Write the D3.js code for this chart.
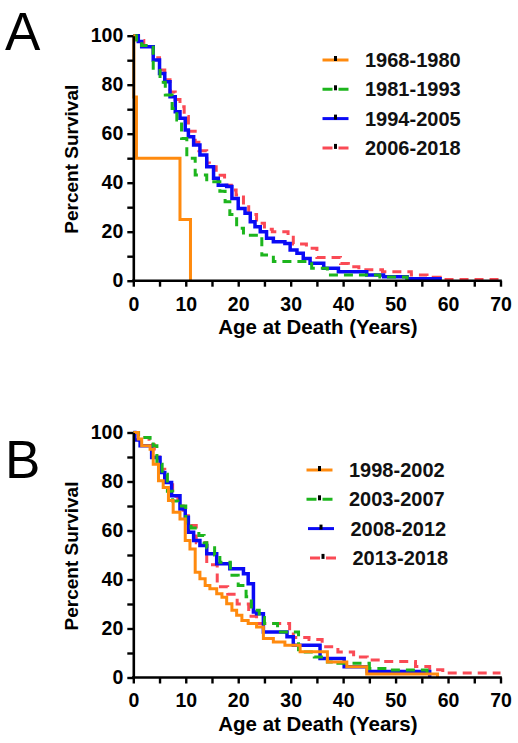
<!DOCTYPE html>
<html>
<head>
<meta charset="utf-8">
<script src="https://cdn.jsdelivr.net/npm/d3@7/dist/d3.min.js"></script>
<style>
  html, body { margin: 0; padding: 0; background: #fff; }
  svg { display: block; }
</style>
</head>
<body>
<svg id="chart" width="518" height="743"></svg>
<script>
// ---------- DATA ----------
const xTicks = [0, 10, 20, 30, 40, 50, 60, 70];
const yTicks = [0, 20, 40, 60, 80, 100];
const xLabel = "Age at Death (Years)";
const yLabel = "Percent Survival";

// Panel A
const legendA = ["1968-1980", "1981-1993", "1994-2005", "2006-2018"];
const a1968T = [0, 0.1, 0.6, 8.9, 10.9];
const a1968S = [100, 75, 50, 25, 0];
const a1981T = [0, 0.6, 1.6, 3.8, 5.1, 6.1, 7.4, 8.3, 9.2, 10.2, 11.8, 14, 16.5, 17.5, 18.4, 19.7, 21, 24.5, 26.7, 34, 37, 47, 52.2];
const a1981S = [100, 97.6, 96, 86.7, 81, 75.8, 70.3, 65.6, 58, 50, 43.1, 40.4, 36.5, 32.2, 27, 21.4, 18.6, 10.5, 7.8, 5.1, 2.3, 1.5, 0];
const a1994T = [0, 0.95, 1.6, 3.8, 5.0, 6.0, 7.0, 8.0, 8.9, 9.9, 10.5, 11.5, 12.7, 14.0, 15.3, 16.2, 17.8, 18.8, 20.0, 21.3, 22.3, 23.2, 24.2, 25.4, 26.7, 28.9, 29.9, 31.2, 32.4, 33.7, 36.3, 39.1, 44.5, 47.7, 52.2, 58.5];
const a1994S = [100, 97.6, 95.5, 90.1, 84.6, 81.2, 75.1, 69, 66.3, 61.5, 58.8, 55.4, 51.3, 46.5, 41.8, 39, 38.4, 33.6, 29.5, 27.5, 24.1, 22, 20, 17.3, 15.9, 15.2, 12.5, 11.2, 9.1, 7.1, 5.1, 3.7, 2.3, 1.6, 0.8, 0];
const a2006T = [0, 1, 2, 3.8, 5, 6, 7, 8, 8.9, 9.7, 10.5, 11.8, 12.5, 14, 14.5, 15.8, 17.4, 19, 19.6, 21, 22, 23.5, 25, 26.5, 29.5, 30.5, 33, 35, 39.5, 41, 43, 47.5, 53, 56, 58.5, 70];
const a2006S = [100, 98, 96, 91, 86, 82, 77, 74, 71, 67, 61, 56.5, 53, 48, 46.5, 43, 39, 37, 35, 31, 27, 23.4, 21, 20, 18.6, 15, 13.2, 9.5, 7, 5.7, 4.5, 3.7, 2.3, 1.4, 0.5, 0.5];

// Panel B
const legendB = ["1998-2002", "2003-2007", "2008-2012", "2013-2018"];
const b1998T = [0, 0.95, 1.6, 3.2, 3.8, 4.8, 5.7, 6.7, 7.6, 8.9, 9.9, 10.8, 11.8, 12.7, 13.7, 14.6, 15.9, 16.9, 17.8, 18.8, 19.7, 20.7, 21.9, 23.5, 24.8, 26.7, 28.9, 31.8, 37, 40.7, 44.5, 58];
const b1998S = [100, 97.3, 94.6, 93.2, 87, 80.3, 77.6, 72.2, 67.4, 64.7, 55.9, 52.5, 43, 40.3, 37.6, 36.2, 34.2, 32.8, 30.1, 27.4, 25.4, 23.3, 22, 20.6, 15.9, 14.5, 13.2, 10.5, 6.3, 4.4, 1.4, 0];
const b2003T = [0, 1, 3.2, 3.8, 4.5, 5.5, 6.5, 7.5, 8.5, 10, 11, 12.5, 13.5, 14, 15.5, 16.5, 18.5, 20, 21.5, 22.5, 24, 25, 27.5, 31.5, 34.5, 37, 39, 45, 49, 56];
const b2003S = [100, 98, 96, 94.6, 87, 83, 76, 72, 70, 63, 61, 58, 55, 53, 50, 47, 41.7, 37.6, 33, 27.5, 24.5, 22, 18.6, 10.4, 8.4, 6.3, 5.8, 3.7, 3.1, 0];
const b2008T = [0, 0.3, 1.3, 3.5, 5.1, 6.0, 7.3, 8.9, 9.9, 10.5, 11.5, 12.7, 14.0, 15.9, 18.4, 21.0, 21.9, 22.9, 23.5, 24.8, 29.3, 30.5, 35.6, 40.2, 44.6, 56.5];
const b2008S = [100, 96.9, 94.6, 89.8, 83.7, 79.6, 74.2, 68.8, 65.4, 59.3, 55.9, 53.9, 50.5, 46.4, 44.4, 42.3, 38.3, 26.7, 26, 18.6, 16.6, 13.2, 7.8, 4.4, 2.4, 0];
const b2013T = [0, 1, 3, 4, 5, 6, 7.5, 8.5, 9.5, 10.5, 12, 14, 16, 18, 19.8, 22, 23.5, 29.8, 30.5, 33.5, 36, 39, 42, 44.6, 47.4, 53.8, 56.5, 59, 70];
const b2013S = [100, 98, 95, 90, 85, 80, 74, 70, 66, 62, 55, 46, 37, 34, 30, 25, 22, 18.5, 16.3, 15.5, 12.6, 10.4, 8.4, 7.1, 6.5, 4.5, 3.2, 1.8, 1.8];

// ---------- STYLE ----------
const FONT = "'Liberation Sans', Arial, Helvetica, sans-serif";
const seriesStyle = [
  { color: "#FF8A0E", dash: null, width: 3 },     // orange solid
  { color: "#1DB51D", dash: "9,6", width: 3 },    // green dashed
  { color: "#0A0AF5", dash: null, width: 3.5 },   // blue solid
  { color: "#FA4A55", dash: "9,6", width: 3 }     // red dashed
];
const drawOrder = [3, 2, 1, 0];

const svg = d3.select("#chart");

function panel(cfg) {
  const x = d3.scaleLinear().domain([0, 70]).range([133.3, 500.5]);
  const y = d3.scaleLinear().domain([0, 100]).range([cfg.y0, cfg.y0 - 245]);
  const g = svg.append("g");

  // panel letter
  svg.append("text").attr("x", 5).attr("y", cfg.letterY)
    .attr("font-family", FONT).attr("font-size", 53).attr("fill", "#000")
    .text(cfg.letter);

  // curves
  const line = d3.line().x(d => x(d[0])).y(d => y(d[1])).curve(d3.curveStepAfter);
  drawOrder.forEach(i => {
    const s = cfg.series[i];
    const pts = s.t.map((t, k) => [t, s.s[k]]);
    const st = seriesStyle[i];
    g.append("path").attr("d", line(pts))
      .attr("fill", "none").attr("stroke", st.color)
      .attr("stroke-width", st.width)
      .attr("stroke-dasharray", st.dash)
      .attr("stroke-linejoin", "miter");
  });

  // x axis
  const xMinor = d3.range(0, 71, 5);
  const xa = g.append("g").attr("transform", `translate(0,${cfg.y0})`)
    .call(d3.axisBottom(x).tickValues(xMinor).tickSize(6).tickSizeOuter(0).tickPadding(10)
      .tickFormat(d => xTicks.includes(d) ? d : ""));
  // y axis
  const yMinor = d3.range(0, 101, 10);
  const ya = g.append("g").attr("transform", `translate(${x(0)},0)`)
    .call(d3.axisLeft(y).tickValues(yMinor).tickSize(6).tickSizeOuter(0).tickPadding(4)
      .tickFormat(d => yTicks.includes(d) ? d : ""));
  [xa, ya].forEach(a => {
    a.select(".domain").attr("stroke", "#000").attr("stroke-width", 2.6);
    a.selectAll(".tick line").attr("stroke", "#000").attr("stroke-width", 2.4);
    a.selectAll(".tick text").attr("font-family", FONT).attr("font-size", 19.5)
      .attr("font-weight", "bold").attr("fill", "#000");
  });
  xa.select(".domain").attr("d", `M${x(0) - 1.3},0H${x(70) + 1.3}`);

  // axis titles
  svg.append("text")
    .attr("x", (x(0) + x(70)) / 2 + 1).attr("y", cfg.y0 + 53)
    .attr("text-anchor", "middle").attr("font-family", FONT)
    .attr("font-size", 20.5).attr("font-weight", "bold").text(xLabel);
  svg.append("text")
    .attr("transform", `translate(78,${cfg.y0 - 121.5}) rotate(-90)`)
    .attr("text-anchor", "middle").attr("font-family", FONT)
    .attr("font-size", 19).attr("font-weight", "bold").text(yLabel);

  // legend
  cfg.legend.forEach((lab, i) => {
    const st = seriesStyle[i];
    const lx = cfg.legX + cfg.legOff[i];
    const ly = cfg.legY + i * 29.3;
    svg.append("line").attr("x1", lx).attr("x2", lx + 26)
      .attr("y1", ly).attr("y2", ly)
      .attr("stroke", st.color).attr("stroke-width", 3)
      .attr("stroke-dasharray", st.dash ? "10,6" : null);
    svg.append("rect").attr("x", lx + 11.5).attr("y", ly - 4).attr("width", 3).attr("height", 5)
      .attr("fill", "#000");
    svg.append("text").attr("x", lx + 42.5).attr("y", ly + 7)
      .attr("font-family", FONT).attr("font-size", 20).attr("font-weight", "bold")
      .attr("fill", "#111").text(lab);
  });
}

panel({
  letter: "A", letterY: 50, y0: 280.7,
  series: [
    { t: a1968T, s: a1968S }, { t: a1981T, s: a1981S },
    { t: a1994T, s: a1994S }, { t: a2006T, s: a2006S }
  ],
  legend: legendA, legX: 322.5, legY: 60, legOff: [0, 0, 0, 0]
});
panel({
  letter: "B", letterY: 478, y0: 677.5,
  series: [
    { t: b1998T, s: b1998S }, { t: b2003T, s: b2003S },
    { t: b2008T, s: b2008S }, { t: b2013T, s: b2013S }
  ],
  legend: legendB, legX: 306.5, legY: 470, legOff: [0, 0, 1.5, 3.5]
});
</script>
</body>
</html>
